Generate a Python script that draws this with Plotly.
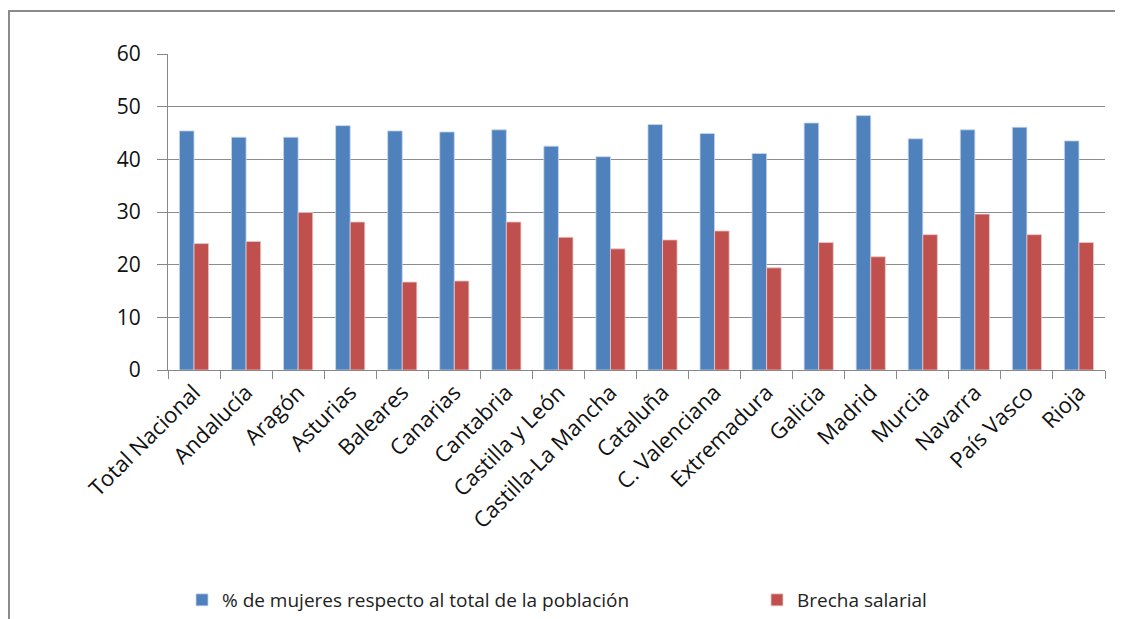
import plotly.graph_objects as go

categories = ["Total Nacional", "Andalucía", "Aragón", "Asturias", "Baleares", "Canarias",
              "Cantabria", "Castilla y León", "Castilla-La Mancha", "Cataluña", "C. Valenciana",
              "Extremadura", "Galicia", "Madrid", "Murcia", "Navarra", "País Vasco", "Rioja"]
pct_mujeres = [45.4, 44.2, 44.2, 46.4, 45.4, 45.2, 45.6, 42.5, 40.5, 46.6, 44.9, 41.1,
               46.9, 48.3, 43.9, 45.6, 46.1, 43.5]
brecha = [24.0, 24.4, 29.9, 28.1, 16.7, 16.9, 28.1, 25.2, 23.0, 24.7, 26.4, 19.4,
          24.2, 21.5, 25.7, 29.6, 25.7, 24.2]
y_ticks = [0, 10, 20, 30, 40, 50, 60]

FONT = "'Open Sans', Lato, sans-serif"

# page body has an 8px margin, so the figure is sized/offset to compensate
W, H = 1115, 611
L, R, T, B = 160, 18, 46, 249
PW, PH = W - L - R, H - T - B

fig = go.Figure()
fig.add_trace(go.Bar(x=categories, y=pct_mujeres,
                     name="% de mujeres respecto al total de la población",
                     marker=dict(color="#4F81BD", line=dict(color="rgba(200,215,235,0.8)", width=1)),
                     legend="legend"))
fig.add_trace(go.Bar(x=categories, y=brecha, name="Brecha salarial",
                     marker=dict(color="#C0504D", line=dict(color="rgba(235,200,200,0.8)", width=1)),
                     legend="legend2"))

leg_y = (T + PH - (600 - 8)) / PH
legend_common = dict(orientation="h", y=leg_y, yanchor="middle", xanchor="left",
                     font=dict(size=19, family=FONT, color="#222"),
                     itemwidth=30, bgcolor="rgba(0,0,0,0)")

fig.update_layout(
    width=W, height=H,
    margin=dict(l=L, r=R, t=T, b=B, autoexpand=False),
    paper_bgcolor="white", plot_bgcolor="white",
    barmode="group", bargap=0.44, bargroupgap=0,
    font=dict(family=FONT, color="#222"),
    showlegend=True,
    legend=dict(x=(182 - 8 - L) / PW, **legend_common),
    legend2=dict(x=(757 - 8 - L) / PW, **legend_common),
    xaxis=dict(type="category", tickangle=-45, tickson="boundaries", automargin=False,
               ticks="outside", ticklen=8, tickcolor="#888",
               showline=True, linecolor="#888", linewidth=1,
               showgrid=False, tickfont=dict(size=22, family=FONT, color="#111")),
    yaxis=dict(range=[0, 60], tickvals=y_ticks, ticks="outside", ticklen=10, automargin=False,
               tickcolor="#888", showline=True, linecolor="#888", linewidth=1,
               showgrid=True, gridcolor="#8c8c8c", gridwidth=1.2,
               zeroline=False, tickfont=dict(size=21, family=FONT, color="#111"),
               ticklabelstandoff=12),
    shapes=[dict(type="rect", xref="paper", yref="paper",
                 x0=(1 - L) / PW, x1=1.2, y0=-1.2, y1=(T + PH - 3) / PH,
                 line=dict(color="#8a8a8a", width=2), fillcolor="rgba(0,0,0,0)",
                 layer="below")],
)

fig.write_html("out.html")
